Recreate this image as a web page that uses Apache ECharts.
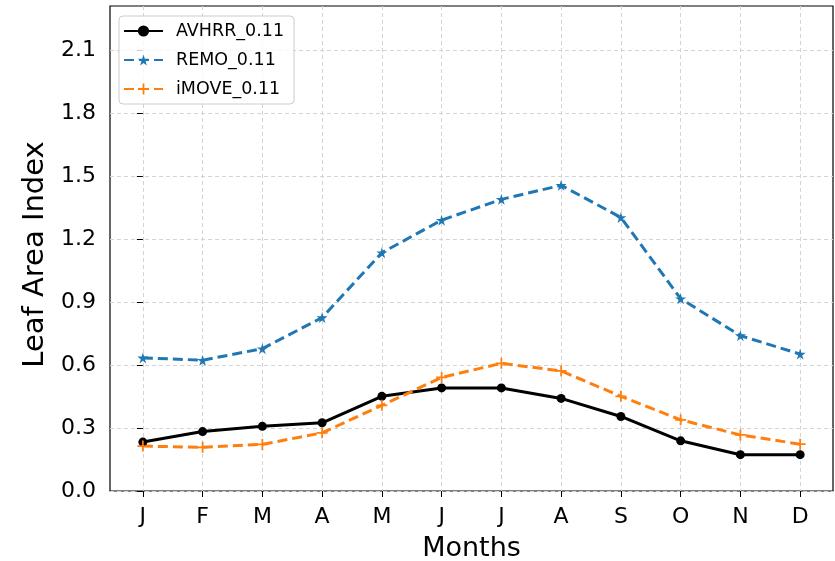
<!DOCTYPE html>
<html>
<head>
<meta charset="utf-8">
<script src="https://cdn.jsdelivr.net/npm/echarts@6/dist/echarts.min.js"></script>
<style>
  html, body { margin: 0; padding: 0; background: #fff; }
  #chart { width: 835px; height: 561px; }
</style>
</head>
<body>
<div id="chart"></div>
<script>
const months = ["J", "F", "M", "A", "M", "J", "J", "A", "S", "O", "N", "D"];
const avhrr = [0.233, 0.283, 0.308, 0.325, 0.451, 0.491, 0.491, 0.441, 0.355, 0.239, 0.173, 0.173];
const remo = [0.634, 0.623, 0.678, 0.826, 1.135, 1.29, 1.389, 1.456, 1.303, 0.916, 0.74, 0.652];
const imove = [0.214, 0.208, 0.222, 0.277, 0.408, 0.541, 0.608, 0.572, 0.451, 0.339, 0.267, 0.223];
const yTicks = [0, 0.3, 0.6, 0.9, 1.2, 1.5, 1.8, 2.1];

const monthIdx = months.map((m, i) => i);
const toPairs = (vals) => vals.map((v, i) => [i, v]);

const star = "path://M50,0 L61,35 L98,35 L68,57 L79,91 L50,70 L21,91 L32,57 L2,35 L39,35 Z";
const plus = "path://M0,4.2 L10,4.2 L10,5.8 L0,5.8 Z M4.2,0 L5.8,0 L5.8,10 L4.2,10 Z";

const font = "DejaVu Sans";
const gridLine = { show: true, lineStyle: { color: "#d3d3d3", type: [4, 3], width: 1 } };

const chart = echarts.init(document.getElementById("chart"), null, { renderer: "canvas" });

const option = {
  backgroundColor: "#fff",
  animation: false,
  grid: {
    left: 110, right: 2, top: 6, bottom: 70,
    outerBoundsMode: "none",
    show: true, borderColor: "#000", borderWidth: 1.2, backgroundColor: "transparent"
  },
  legend: {
    orient: "vertical",
    left: 119, top: 16,
    itemWidth: 39, itemHeight: 14, itemGap: 11,
    padding: [6, 10, 6, 4],
    borderColor: "#cccccc", borderWidth: 1, borderRadius: 4,
    backgroundColor: "rgba(255,255,255,0.8)",
    textStyle: { fontFamily: font, fontSize: 17.5, color: "#000", padding: [0, 0, 0, 8] },
    data: ["AVHRR_0.11", "REMO_0.11", "iMOVE_0.11"]
  },
  xAxis: {
    type: "value",
    min: -0.55, max: 11.55,
    name: "Months", nameLocation: "middle", nameGap: 44,
    nameTextStyle: { fontFamily: font, fontSize: 27, color: "#000" },
    axisLine: { show: false },
    axisTick: { show: true, inside: false, length: 6, lineStyle: { color: "#000" }, customValues: monthIdx },
    axisLabel: {
      fontFamily: font, fontSize: 22, color: "#000", margin: 15,
      customValues: monthIdx,
      formatter: (v) => months[Math.round(v)]
    },
    splitLine: gridLine
  },
  yAxis: {
    type: "value",
    min: 0, max: 2.31,
    name: "Leaf Area Index", nameLocation: "middle", nameGap: 57, nameRotate: 90,
    nameTextStyle: { fontFamily: font, fontSize: 29, color: "#000", padding: [0, 12, 0, 0] },
    axisLine: { show: false },
    axisTick: { show: true, inside: false, length: 6, lineStyle: { color: "#000" }, customValues: yTicks },
    axisLabel: {
      fontFamily: font, fontSize: 22, color: "#000", margin: 14,
      customValues: yTicks,
      formatter: (v) => v.toFixed(1)
    },
    splitLine: gridLine
  },
  series: [
    {
      name: "AVHRR_0.11", type: "line", data: toPairs(avhrr),
      symbol: "circle", symbolSize: 9,
      lineStyle: { color: "#000", width: 3 },
      itemStyle: { color: "#000" }
    },
    {
      name: "REMO_0.11", type: "line", data: toPairs(remo),
      symbol: star, symbolSize: 11,
      lineStyle: { color: "#1f77b4", width: 3, type: [10, 5] },
      itemStyle: { color: "#1f77b4" }
    },
    {
      name: "iMOVE_0.11", type: "line", data: toPairs(imove),
      symbol: plus, symbolSize: 11,
      lineStyle: { color: "#ff7f0e", width: 3, type: [10, 5] },
      itemStyle: { color: "#ff7f0e" }
    }
  ]
};

chart.setOption(option);
</script>
</body>
</html>
